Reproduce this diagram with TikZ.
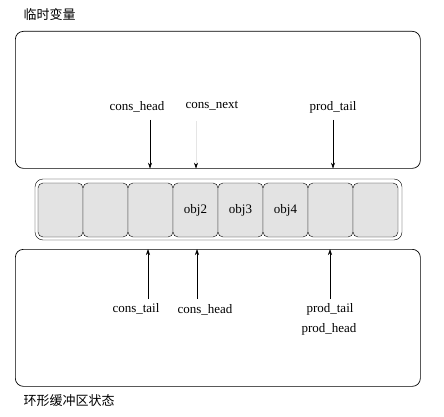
\documentclass[tikz,border=0pt]{standalone}
\usepackage{fontspec}
\setmainfont{Liberation Serif}
\newfontfamily\cjkfont{Noto Sans CJK SC}
\usetikzlibrary{arrows.meta}

\begin{document}
\begin{tikzpicture}[
  x=1pt, y=-1pt,
  panel/.style={draw, rounded corners=8pt, line width=0.7pt, inner sep=0pt, anchor=north west},
  cell/.style={draw, fill=gray!22, rounded corners=5pt, minimum width=45pt, minimum height=54pt, inner sep=0pt},
  ptr/.style={-{Stealth[length=6pt,width=4pt]}, line width=0.6pt},
  every node/.style={font=\fontsize{13}{15}\selectfont}
]
\useasboundingbox (0,0) rectangle (444,417);
% the two panels
\node[panel, minimum width=405pt, minimum height=137pt] (vars) at (15,31) {};
\node[panel, minimum width=405pt, minimum height=137pt] (state) at (15,249) {};
\node[anchor=west, font=\cjkfont\fontsize{13}{15}\selectfont] (varstitle) at (20,15) {临时变量};
\node[anchor=west, font=\cjkfont\fontsize{13}{15}\selectfont] (statetitle) at (20,401) {环形缓冲区状态};
% ring buffer
\node[draw, rounded corners=8pt, minimum width=367pt, minimum height=61pt] (ring) at (218.5,209.5) {};
\foreach \i/\txt in {1/,2/,3/,4/obj2,5/obj3,6/obj4,7/,8/}
  \node[cell] (c\i) at (15.5+45*\i,210) {\txt};
% pointers into the buffer
\node (chead) at (137,107) {cons\_head};
\node (cnext) at (212,106) {cons\_next};
\node (ptail) at (333,107) {prod\_tail};
\coordinate (a1) at (150,120);
\coordinate (a2) at (196,121);
\coordinate (a3) at (333,120);
\draw[ptr] (a1) -- (a1 |- vars.south);
\draw[ptr, draw=gray!20, -{Stealth[length=6pt,width=4pt,black]}] (a2) -- (a2 |- vars.south);
\draw[ptr] (a3) -- (a3 |- vars.south);
\node (ctail2) at (136,309) {cons\_tail};
\node (chead2) at (205,310) {cons\_head};
\node (ptail2) at (330,309) {prod\_tail};
\node (phead2) at (329,329) {prod\_head};
\coordinate (b1) at (148,299);
\coordinate (b2) at (197,299);
\coordinate (b3) at (330,299);
\draw[ptr] (b1) -- (b1 |- state.north);
\draw[ptr] (b2) -- (b2 |- state.north);
\draw[ptr] (b3) -- (b3 |- state.north);
\end{tikzpicture}
\end{document}
